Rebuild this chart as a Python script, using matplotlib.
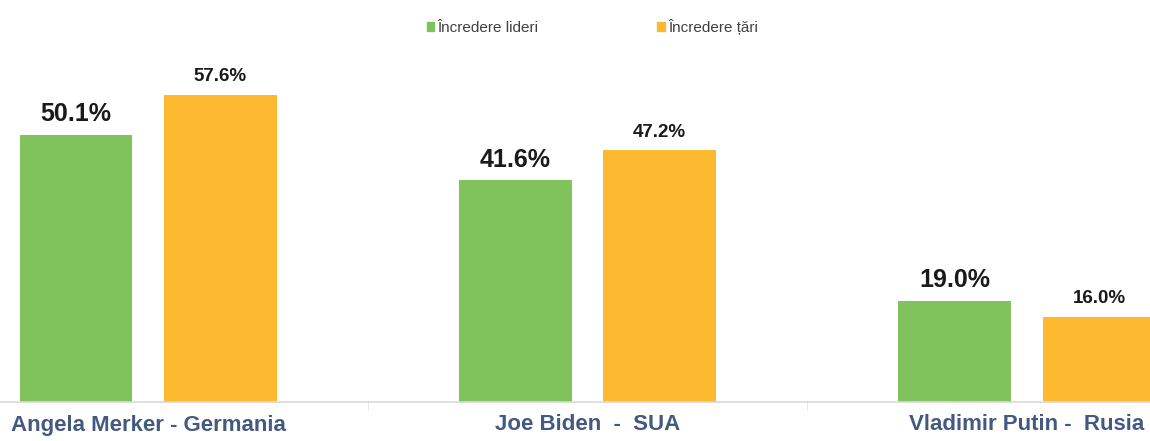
import numpy as np
import matplotlib
matplotlib.use('Agg')
import matplotlib.pyplot as plt
from matplotlib.patches import Patch

# data
categories = ['Angela Merker - Germania', 'Joe Biden  -  SUA', 'Vladimir Putin -  Rusia']
series_names = ['Încredere lideri', 'Încredere țări']
incredere_lideri = [50.1, 41.6, 19.0]
incredere_tari = [57.6, 47.2, 16.0]

green = '#80c25c'
orange = '#fdb92f'
label_col = '#44597f'

plt.rcParams['font.family'] = ['Liberation Sans', 'DejaVu Sans']

fig = plt.figure(figsize=[11.5, 4.41], dpi=100)
ax = fig.add_axes([0., 39./441, 1., 1. - 39./441])

x = np.arange(len(categories))
w = 0.257
off = 0.164

b1 = ax.bar(x - off, incredere_lideri, w, color=green, label=series_names[0])
b2 = ax.bar(x + off, incredere_tari, w, color=orange, label=series_names[1])

for r, v in zip(b1, incredere_lideri):
    ax.text(r.get_x() + r.get_width()/2, v + 1.6, '{:.1f}%'.format(v),
            ha='center', va='bottom', fontsize=18, fontweight='bold', color='#1a1a1a')
for r, v in zip(b2, incredere_tari):
    ax.text(r.get_x() + r.get_width()/2, v + 1.8, '{:.1f}%'.format(v),
            ha='center', va='bottom', fontsize=13.5, fontweight='bold', color='#1a1a1a')

ax.set_xlim(-0.337, 2.280)
ax.set_ylim(0, 75.4)

for s in ['top', 'left', 'right']:
    ax.spines[s].set_visible(False)
ax.spines['bottom'].set_color('#d9d9d9')
ax.spines['bottom'].set_linewidth(1.2)
ax.set_yticks([])

ax.set_xticks(x)
ax.set_xticklabels(categories, fontsize=16, fontweight='bold', color=label_col)
ax.tick_params(axis='x', which='major', length=0, pad=9)
ax.set_xticks([0.5, 1.5], minor=True)
ax.tick_params(axis='x', which='minor', length=6, color='#e0e0e0')

handles = [Patch(color=green, label=series_names[0]), Patch(color=orange, label=series_names[1])]
fig.legend(handles=handles, loc='center', bbox_to_anchor=(0.515, 1 - 27./441), ncol=2,
           frameon=False, fontsize=11, handlelength=0.5, handleheight=0.5,
           handletextpad=0.2, columnspacing=7.8, labelcolor='#404040')

plt.savefig('out.png', dpi=100)
